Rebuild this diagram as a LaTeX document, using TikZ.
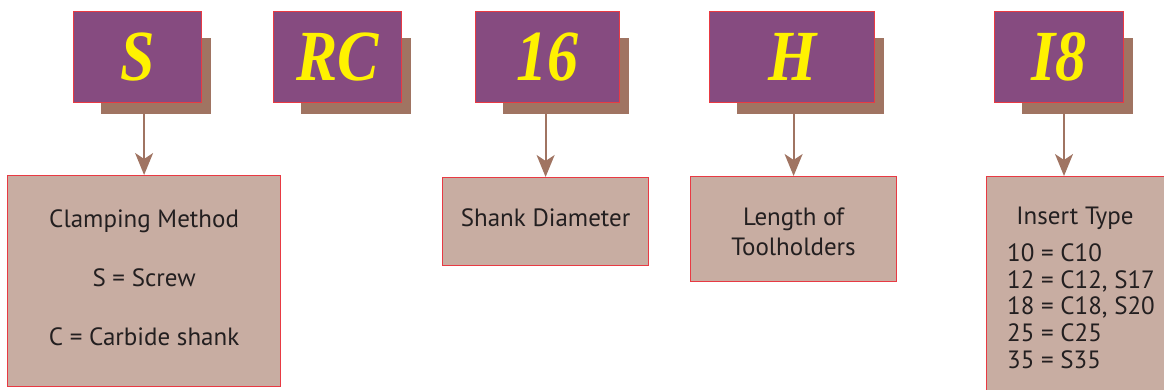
\documentclass[tikz,border=0pt]{standalone}
\usepackage{fontspec}
\newfontfamily\labelfont{PT Sans}
\newfontfamily\codefont[FakeStretch=0.86]{Liberation Serif}
\usetikzlibrary{arrows.meta}
\definecolor{codepurple}{HTML}{864B80}
\definecolor{shadebrown}{HTML}{A07462}
\definecolor{boxred}{HTML}{E83A43}
\definecolor{codeyellow}{HTML}{FFF200}
\definecolor{infofill}{HTML}{C8ADA2}
\definecolor{inktext}{HTML}{231F20}
\begin{document}
\begin{tikzpicture}[x=1pt,y=-1pt,
	codebox/.style={draw=boxred, fill=codepurple, line width=1.2pt, anchor=north west, inner sep=0pt,
		minimum height=91, text=codeyellow, font=\codefont\bfseries\itshape\fontsize{72}{72}\selectfont},
	shadebox/.style={fill=shadebrown, anchor=north west, inner sep=0pt, minimum height=76},
	infobox/.style={draw=boxred, fill=infofill, line width=1.2pt, anchor=north west, inner sep=0pt,
		align=center, text=inktext, font=\labelfont\fontsize{25}{30}\selectfont},
	labeltext/.style={text=inktext, inner sep=0pt, font=\labelfont\fontsize{25}{26.7}\selectfont},
	link/.style={draw=shadebrown, line width=2pt, -{Stealth[length=22pt,width=18pt,inset=6pt]}}]
		
		\useasboundingbox (0,0) rectangle (1164,390);
		
		% code letters with their shadows
		\foreach \name/\txt/\x/\w in {s/S/73/128, rc/RC/273/128, sz/16/475/144, len/H/709/165, ins/I8/994/129}
		{
			\node[shadebox, minimum width={(\w-18)*1pt}] (\name-sh) at (\x+28,38) {};
			\node[codebox, minimum width=\w] (\name) at (\x,11) {\txt};
		}
		
		% meanings
		\node[infobox, minimum width=273, minimum height=211, text depth=8pt] (clamp) at (7,175) {Clamping Method\\[29pt]S = Screw\\[29pt]C = Carbide shank};
		\node[infobox, minimum width=206, minimum height=88, text depth=8pt] (shank) at (442,177) {Shank Diameter};
		\node[infobox, minimum width=206, minimum height=105, text height=52.5pt] (length) at (690,176) {Length of\\Toolholders};
		\node[infobox, minimum width=200, minimum height=230] (insert) at (986,176) {};
		\node[labeltext] (institle) at (1075,218) {Insert Type};
		\node[labeltext, anchor=west, align=left] (inslist) at (1007,306) {10 = C10\\12 = C12, S17\\18 = C18, S20\\25 = C25\\35 = S35};
		\coordinate (ins-in) at (1064,176);
		
		\draw[link] (s-sh.south -| clamp.north) -- (clamp.north);
		\draw[link] (sz-sh.south -| shank.north) -- (shank.north);
		\draw[link] (len-sh.south -| length.north) -- (length.north);
		\draw[link] (ins-sh.south -| ins-in) -- (ins-in);
		
		\end{tikzpicture}
\end{document}
